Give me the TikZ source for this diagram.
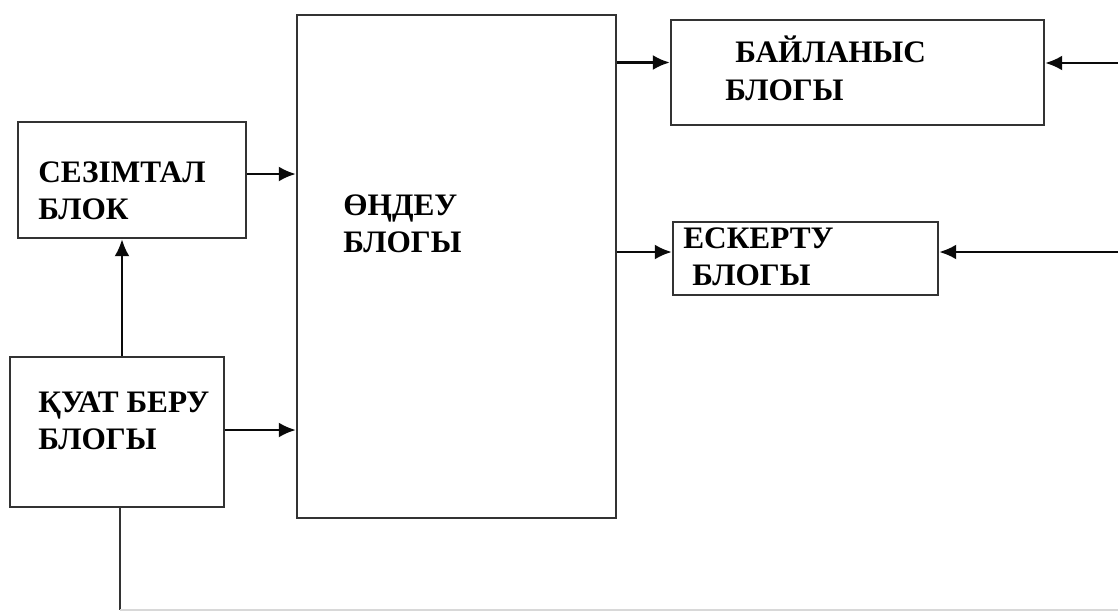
\documentclass[tikz,border=0pt]{standalone}
\usepackage{fontspec}
\setmainfont{Liberation Serif}
\usepackage{xcolor}
\definecolor{boxLine}{HTML}{333333}
\definecolor{wireBlack}{HTML}{0A0A0A}
\definecolor{wireFaint}{HTML}{D8D8D8}
\usepackage{tikz}
\usetikzlibrary{arrows.meta,positioning,calc}
\tikzset{
  >={Latex[length=3.4mm,width=3mm]},
  block/.style={rectangle,draw=boxLine,line width=0.05cm,fill=white,inner sep=0pt},
  blocklabel/.style={anchor=base west,inner sep=0pt,font=\fontsize{17.8}{21}\selectfont\bfseries},
  wire/.style={->,draw=wireBlack,line width=0.05cm},
  plainwire/.style={draw=boxLine,line width=0.04cm},
}
\begin{document}
\begin{tikzpicture}[x=0.02cm,y=-0.02cm]
  \useasboundingbox (0,0) rectangle (1118,612);

  % blocks
  \node[block, minimum width=4.56cm, minimum height=2.32cm] (sens)  at (132,180)   {};
  \node[block, minimum width=4.28cm, minimum height=3.00cm] (pwr)   at (117,432)   {};
  \node[block, minimum width=6.38cm, minimum height=10.06cm] (proc) at (456.5,266.5) {};
  \node[block, minimum width=7.46cm, minimum height=2.10cm] (comm)  at (857.5,72.5) {};
  \node[block, minimum width=5.30cm, minimum height=1.46cm] (alert) at (805.5,258.5) {};

  % labels
  \node[blocklabel] (sensA)  at (38,182)  {СЕЗІМТАЛ};
  \node[blocklabel] (sensB)  at (38,219)  {БЛОК};
  \node[blocklabel] (pwrA)   at (38,412)  {ҚУАТ БЕРУ};
  \node[blocklabel] (pwrB)   at (38,449)  {БЛОГЫ};
  \node[blocklabel] (procA)  at (343,215) {ӨҢДЕУ};
  \node[blocklabel] (procB)  at (343,252) {БЛОГЫ};
  \node[blocklabel] (commA)  at (735,62)  {БАЙЛАНЫС};
  \node[blocklabel] (commB)  at (725,100) {БЛОГЫ};
  \node[blocklabel] (alertA) at (683,248) {ЕСКЕРТУ};
  \node[blocklabel] (alertB) at (692,285) {БЛОГЫ};

  % inputs from the right edge
  \coordinate (inComm)  at (1118,63);
  \coordinate (inAlert) at (1118,252);
  \coordinate (botR)    at (1118,610);
  \coordinate (c1) at ($(comm.west)+(0,-10)$);
  \coordinate (a1) at ($(alert.west)+(0,-6.5)$);

  % connections
  \draw[wire] ($(sens.east)+(0,-6)$) coordinate (s1) -- (s1 -| proc.west);
  \draw[wire] ($(pwr.east)+(0,-2)$) coordinate (p1) -- (p1 -| proc.west);
  \draw[wire] ($(pwr.north)+(5,0)$) coordinate (p2) -- (p2 |- sens.south);
  \draw[wire] (proc.east |- c1) -- (c1);
  \draw[wire] (proc.east |- a1) -- (a1);
  \draw[wire] (inComm) -- (inComm -| comm.east);
  \draw[wire] (inAlert) -- (inAlert -| alert.east);

  % supply line at the bottom
  \draw[plainwire] ($(pwr.south)+(3,0)$) coordinate (p3) -- (p3 |- botR);
  \draw[draw=wireFaint, line width=0.03cm] (p3 |- botR) -- (botR);
\end{tikzpicture}
\end{document}
